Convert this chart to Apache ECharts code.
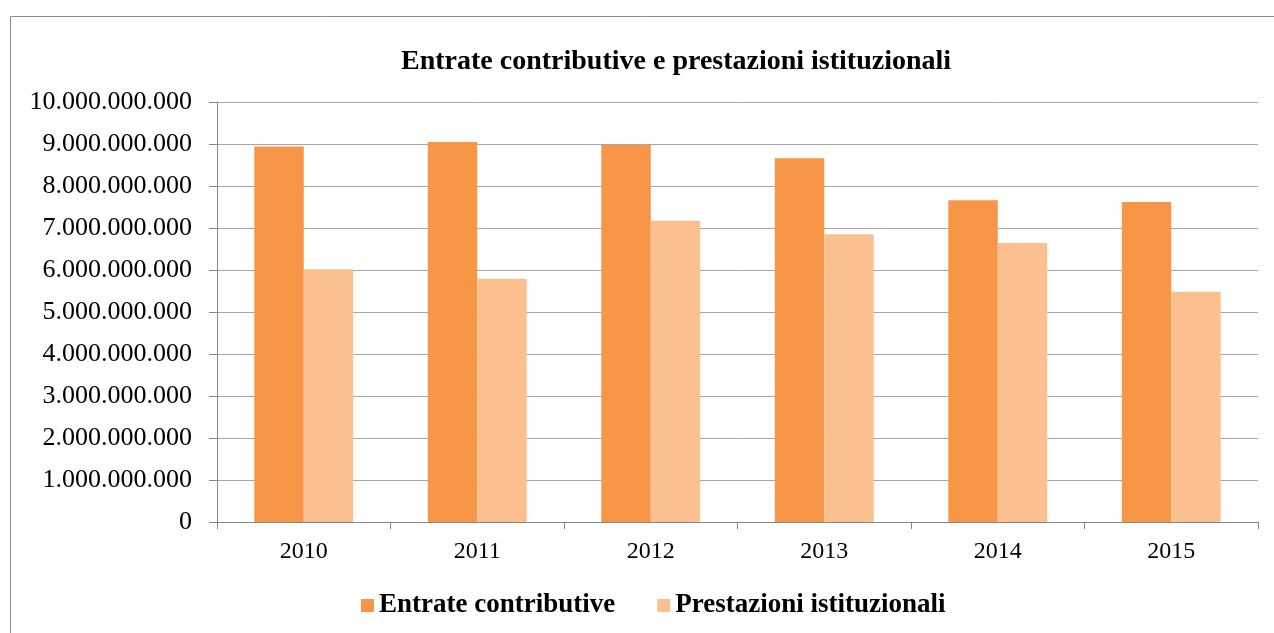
<!DOCTYPE html>
<html>
<head>
<meta charset="utf-8">
<script src="https://cdn.jsdelivr.net/npm/echarts@6/dist/echarts.min.js"></script>
<style>
  html, body { margin: 0; padding: 0; background: #fff; }
  #main { width: 1274px; height: 633px; }
</style>
</head>
<body>
<div id="main"></div>
<script>
var anni = ['2010', '2011', '2012', '2013', '2014', '2015'];
var entrate = [8940000000, 9050000000, 8980000000, 8660000000, 7660000000, 7620000000];
var prestazioni = [6020000000, 5790000000, 7170000000, 6850000000, 6640000000, 5480000000];

function puntini(v) {
    return String(v).replace(/\B(?=(\d{3})+(?!\d))/g, '.');
}

var myChart = echarts.init(document.getElementById('main'));

var option = {
    backgroundColor: '#fff',
    textStyle: { fontFamily: 'Liberation Serif' },
    graphic: [{
        type: 'rect',
        shape: { x: 10.5, y: 16.5, width: 1280, height: 640 },
        style: { fill: 'none', stroke: '#8c8c8c', lineWidth: 1 },
        silent: true
    }],
    title: {
        text: 'Entrate contributive e prestazioni istituzionali',
        left: 396,
        top: 43,
        textStyle: { fontFamily: 'Liberation Serif', fontSize: 28, fontWeight: 'bold', color: '#000' }
    },
    legend: {
        bottom: 9,
        left: 356,
        itemWidth: 13,
        itemHeight: 13,
        itemGap: 42,
        icon: 'rect',
        textStyle: { fontFamily: 'Liberation Serif', fontSize: 27, fontWeight: 'bold', color: '#000' },
        data: ['Entrate contributive', 'Prestazioni istituzionali']
    },
    grid: { left: 217, right: 16, top: 102, bottom: 111, containLabel: false },
    xAxis: {
        type: 'category',
        data: anni,
        axisLine: { lineStyle: { color: '#868686' } },
        axisTick: { show: true, length: 7, lineStyle: { color: '#868686' } },
        axisLabel: { fontFamily: 'Liberation Serif', fontSize: 24, color: '#000', margin: 18 }
    },
    yAxis: {
        type: 'value',
        min: 0,
        max: 10000000000,
        interval: 1000000000,
        axisLine: { show: true, lineStyle: { color: '#868686' } },
        axisTick: { show: true, length: 8, lineStyle: { color: '#868686' } },
        splitLine: { lineStyle: { color: '#a6a6a6' } },
        axisLabel: {
            fontFamily: 'Liberation Serif', fontSize: 26, color: '#000', margin: 25,
            formatter: puntini
        }
    },
    series: [{
        name: 'Entrate contributive',
        type: 'bar',
        data: entrate,
        barGap: '0%',
        barCategoryGap: '43%',
        itemStyle: { color: '#F79646' }
    }, {
        name: 'Prestazioni istituzionali',
        type: 'bar',
        data: prestazioni,
        itemStyle: { color: '#FAC090' }
    }]
};

myChart.setOption(option);
</script>
</body>
</html>
